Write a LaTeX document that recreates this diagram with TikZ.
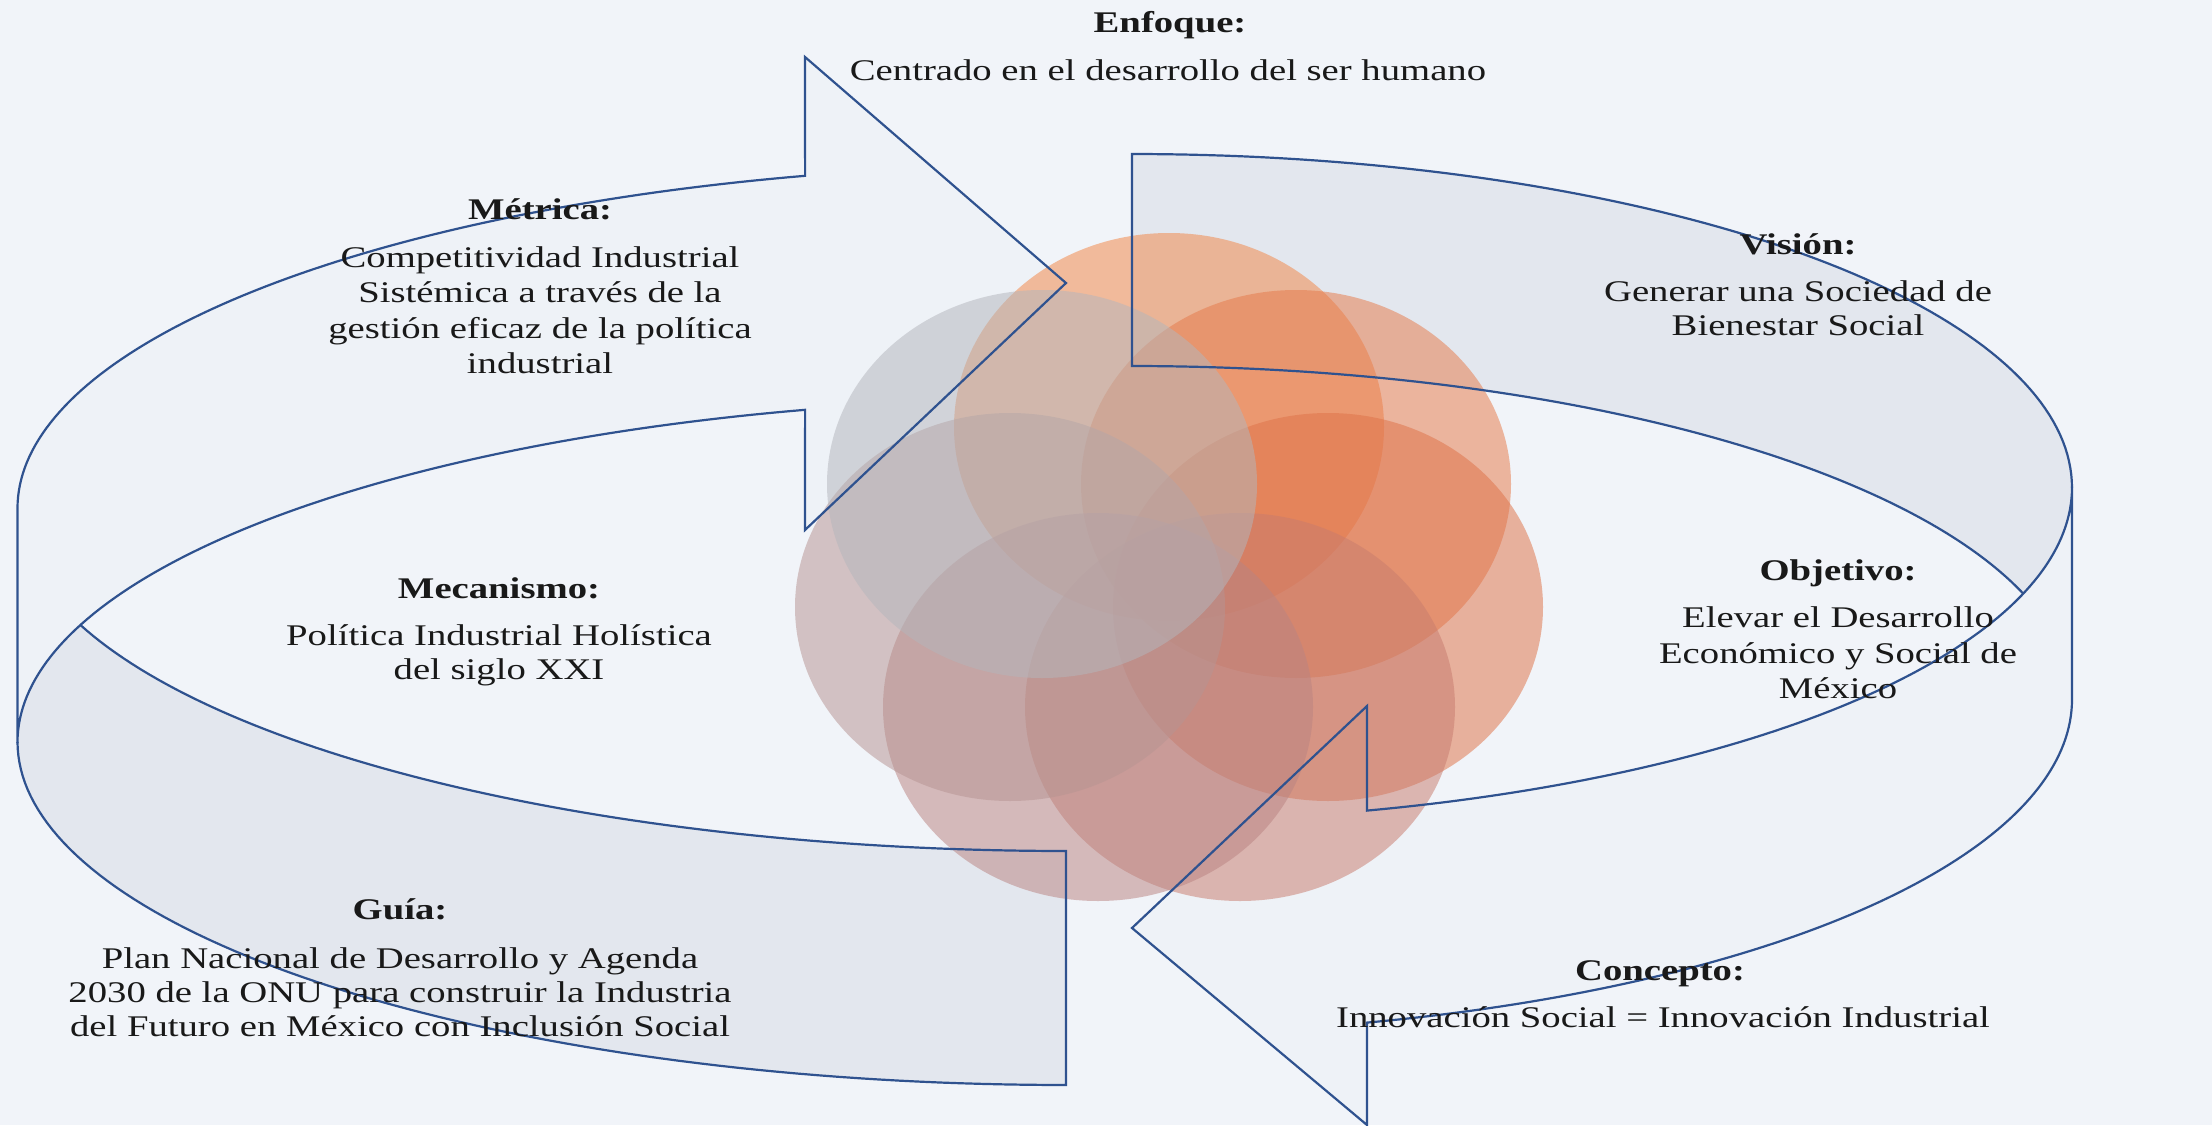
\documentclass[tikz,border=0pt]{standalone}
\usepackage{fontspec}
\setmainfont{Liberation Serif}
\usepackage{graphicx}
\newcommand{\hsx}[1]{\scalebox{1.29}[1]{#1}}
\definecolor{bgc}{RGB}{241,244,249}
\definecolor{frontfill}{RGB}{238,242,247}
\definecolor{backfill}{RGB}{227,231,238}
\definecolor{edge}{RGB}{47,82,143}
\definecolor{tc}{RGB}{25,25,25}
\definecolor{cA}{RGB}{242,134,70}
\definecolor{cB}{RGB}{230,122,74}
\definecolor{cC}{RGB}{222,114,72}
\definecolor{cD}{RGB}{200,124,110}
\definecolor{cE}{RGB}{186,132,130}
\definecolor{cF}{RGB}{182,148,146}
\definecolor{cG}{RGB}{180,182,188}
\tikzset{
  band/.style={draw=edge, line width=1.1pt, line join=miter},
  blob/.style={fill opacity=0.52},
  txt/.style={anchor=base, inner sep=0pt, text=tc, font=\fontsize{15}{18}\selectfont},
  hdr/.style={txt, font=\fontsize{15}{18}\selectfont\bfseries}
}
\begin{document}
\begin{tikzpicture}[x=0.5pt,y=-0.5pt]
\useasboundingbox (0,0) rectangle (2212,1125);
\fill[bgc] (0,0) rectangle (2212,1125);
% ---------- band fills ----------
\fill[backfill] plot[domain=199.94:90,samples=90,variable=\t] ({1066+1048.5*cos(\t)},{742+343*sin(\t)})
  -- (1066,851) -- plot[domain=90:160.06,samples=70,variable=\t] ({1066+1048.5*cos(\t)},{508+343*sin(\t)}) -- cycle;
\fill[frontfill] (17.5,742) -- (17.5,508)
  -- plot[domain=180:255.59,samples=80,variable=\t] ({1066+1048.5*cos(\t)},{508+343*sin(\t)})
  -- (805,57) -- (1066,283) -- (805,530)
  -- plot[domain=255.59:180,samples=80,variable=\t] ({1066+1048.5*cos(\t)},{742+343*sin(\t)}) -- cycle;
\fill[backfill] (1132,366) -- (1132,154)
  -- plot[domain=-90:18.53,samples=90,variable=\t] ({1132+940*cos(\t)},{487.6+333.6*sin(\t)})
  -- plot[domain=-18.53:-90,samples=70,variable=\t] ({1132+940*cos(\t)},{699.6+333.6*sin(\t)}) -- cycle;
\fill[frontfill] (2072,487.6) -- (2072,699.6)
  -- plot[domain=0:75.52,samples=80,variable=\t] ({1132+940*cos(\t)},{699.6+333.6*sin(\t)})
  -- (1367,1125) -- (1132,928) -- (1367,706)
  -- plot[domain=75.52:0,samples=80,variable=\t] ({1132+940*cos(\t)},{487.6+333.6*sin(\t)}) -- cycle;
% ---------- circles ----------
\fill[cA,blob] (1169,427) ellipse [x radius=215, y radius=194];
\fill[cB,blob] (1296,484) ellipse [x radius=215, y radius=194];
\fill[cC,blob] (1328,607) ellipse [x radius=215, y radius=194];
\fill[cD,blob] (1240,707) ellipse [x radius=215, y radius=194];
\fill[cE,blob] (1098,707) ellipse [x radius=215, y radius=194];
\fill[cF,blob] (1010,607) ellipse [x radius=215, y radius=194];
\fill[cG,blob] (1042,484) ellipse [x radius=215, y radius=194];
% ---------- band outlines ----------
\draw[band] (17.5,742) -- (17.5,508)
  -- plot[domain=180:255.59,samples=80,variable=\t] ({1066+1048.5*cos(\t)},{508+343*sin(\t)})
  -- (805,57) -- (1066,283) -- (805,530)
  -- plot[domain=255.59:180,samples=80,variable=\t] ({1066+1048.5*cos(\t)},{742+343*sin(\t)}) -- cycle;
\draw[band] plot[domain=180:90,samples=80,variable=\t] ({1066+1048.5*cos(\t)},{742+343*sin(\t)})
  -- (1066,851) -- plot[domain=90:160.06,samples=70,variable=\t] ({1066+1048.5*cos(\t)},{508+343*sin(\t)});
\draw[band] (2072,487.6) -- (2072,699.6)
  -- plot[domain=0:75.52,samples=80,variable=\t] ({1132+940*cos(\t)},{699.6+333.6*sin(\t)})
  -- (1367,1125) -- (1132,928) -- (1367,706)
  -- plot[domain=75.52:0,samples=80,variable=\t] ({1132+940*cos(\t)},{487.6+333.6*sin(\t)}) -- cycle;
\draw[band] plot[domain=-18.53:-90,samples=70,variable=\t] ({1132+940*cos(\t)},{699.6+333.6*sin(\t)})
  -- (1132,154) -- plot[domain=-90:0,samples=80,variable=\t] ({1132+940*cos(\t)},{487.6+333.6*sin(\t)});
% ---------- texts ----------
\node[hdr] (enf) at (1170,32) {\hsx{Enfoque:}};
\node[txt] (enf1) at (1168,80) {\hsx{Centrado en el desarrollo del ser humano}};
\node[hdr] (met) at (540,219) {\hsx{Métrica:}};
\node[txt] (met1) at (540,267.5) {\hsx{Competitividad Industrial}};
\node[txt] (met2) at (540,302.5) {\hsx{Sistémica a través de la}};
\node[txt] (met3) at (540,338) {\hsx{gestión eficaz de la política}};
\node[txt] (met4) at (540,373) {\hsx{industrial}};
\node[hdr] (mec) at (499,598) {\hsx{Mecanismo:}};
\node[txt] (mec1) at (499,645.5) {\hsx{Política Industrial Holística}};
\node[txt] (mec2) at (499,679.5) {\hsx{del siglo XXI}};
\node[hdr] (gui) at (400,919) {\hsx{Guía:}};
\node[txt] (gui1) at (400,968) {\hsx{Plan Nacional de Desarrollo y Agenda}};
\node[txt] (gui2) at (400,1002.5) {\hsx{2030 de la ONU para construir la Industria}};
\node[txt] (gui3) at (400,1036.5) {\hsx{del Futuro en México con Inclusión Social}};
\node[hdr] (vis) at (1798,254) {\hsx{Visión:}};
\node[txt] (vis1) at (1798,301) {\hsx{Generar una Sociedad de}};
\node[txt] (vis2) at (1798,335.5) {\hsx{Bienestar Social}};
\node[hdr] (obj) at (1838,580.5) {\hsx{Objetivo:}};
\node[txt] (obj1) at (1838,627.5) {\hsx{Elevar el Desarrollo}};
\node[txt] (obj2) at (1838,663) {\hsx{Económico y Social de}};
\node[txt] (obj3) at (1838,698) {\hsx{México}};
\node[hdr] (con) at (1660,980.5) {\hsx{Concepto:}};
\node[txt] (con1) at (1663,1027.5) {\hsx{Innovación Social = Innovación Industrial}};
\end{tikzpicture}
\end{document}
